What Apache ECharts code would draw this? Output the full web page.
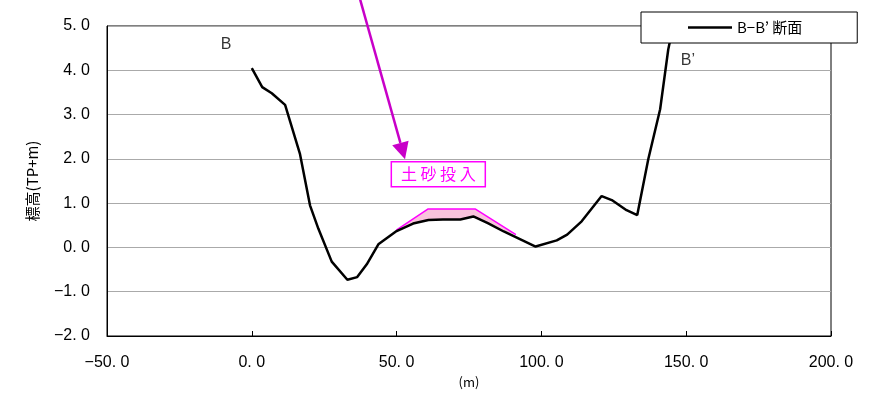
<!DOCTYPE html>
<html>
<head>
<meta charset="utf-8">
<script src="https://cdn.jsdelivr.net/npm/echarts@6/dist/echarts.min.js"></script>
<style>
  html, body { margin: 0; padding: 0; background: #fff; }
  #chart { width: 877px; height: 398px; }
</style>
</head>
<body>
<div id="chart"></div>
<script>
// 横断測線 B-B' の地盤高 [距離(m), 標高(TP+m)]
const profile = [
  [0, 4.05], [3.6, 3.62], [6.9, 3.48], [11.5, 3.22], [16.6, 2.12],
  [20.1, 0.95], [23.0, 0.42], [27.6, -0.32], [33.0, -0.73], [36.4, -0.67],
  [39.7, -0.38], [43.7, 0.07], [50.0, 0.37], [55.7, 0.54], [61.0, 0.62],
  [66.0, 0.63], [72.0, 0.63], [76.5, 0.70], [81.5, 0.55], [87.0, 0.36],
  [98.0, 0.02], [105.3, 0.16], [108.9, 0.29], [113.9, 0.59], [120.8, 1.16],
  [124.3, 1.07], [129.4, 0.84], [133.1, 0.73], [136.9, 1.99], [141.0, 3.12],
  [143.8, 4.47], [145.5, 5.0]
]
// 土砂投入後の計画線（マゼンタ）
const sandTop = [[49.9, 0.39], [60.9, 0.87], [77.1, 0.87], [91.2, 0.29]]
// 端点ラベル [x, y, 文字]
const endLabels = [[-8.9, 4.58, 'B'], [150.6, 4.22, 'B’']]
// 矢印（始点・終点）と注記
const arrowFrom = [37.4, 5.6]
const arrowTo = [52.9, 1.99]
const noteAt = [64.4, 1.65]
const noteText = '土 砂 投 入'

const xTicks = { min: -50, max: 200, interval: 50 }
const yTicks = { min: -2, max: 5, interval: 1 }

// 塗りつぶし範囲：計画線 + 現況線（逆順）
const x0 = sandTop[0][0], x1 = sandTop[sandTop.length - 1][0]
const sandPolygon = [...sandTop, ...profile.filter((p) => p[0] > x0 && p[0] < x1).reverse()]

const fmt = (v) => (v < 0 ? '−' : '') + Math.abs(v).toFixed(1).replace('.', '. ')
const font = '"Liberation Sans", Arial, sans-serif'
const jp = '"Noto Sans CJK JP", sans-serif'

const chart = echarts.init(document.getElementById('chart'))
chart.setOption({
  animation: false,
  backgroundColor: '#fff',
  grid: {
    left: 107, top: 26, width: 724, height: 310,
    show: true, borderColor: '#000', borderWidth: 1,
    outerBoundsMode: 'none'
  },
  legend: {
    left: 641, top: 12,
    padding: [8, 55, 8, 47],
    backgroundColor: '#fff', borderColor: '#000', borderWidth: 1, borderRadius: 0,
    icon: 'rect', itemWidth: 44, itemHeight: 2.5, itemGap: 4,
    itemStyle: { color: '#000' },
    textStyle: { fontFamily: jp, fontSize: 15, color: '#000', padding: [2, 0, 0, 0] },
    data: ['B−B’ 断面']
  },
  xAxis: {
    type: 'value', ...xTicks,
    name: '(m)', nameLocation: 'middle', nameGap: 40,
    nameTextStyle: { fontFamily: jp, fontSize: 13, color: '#000' },
    axisLine: { onZero: false, lineStyle: { color: '#000', width: 1 } },
    axisTick: { inside: true, length: 5, lineStyle: { color: '#000' } },
    axisLabel: { margin: 19, fontFamily: font, fontSize: 16, color: '#000', formatter: fmt },
    splitLine: { show: false }
  },
  yAxis: {
    type: 'value', ...yTicks,
    name: '標高(TP+m)', nameLocation: 'middle', nameGap: 67,
    nameTextStyle: { fontFamily: jp, fontSize: 15, color: '#000' },
    axisLine: { show: true, onZero: false, lineStyle: { color: '#000', width: 1 } },
    axisTick: { show: false },
    axisLabel: { margin: 17, fontFamily: font, fontSize: 16, color: '#000', formatter: fmt },
    splitLine: { lineStyle: { color: '#aaaaaa', width: 1 } }
  },
  series: [
    {
      name: 'sandFill', type: 'custom', data: [[0, 0]], silent: true, z: 1,
      renderItem: (params, api) => ({
        type: 'polygon',
        shape: { points: sandPolygon.map((p) => api.coord(p)) },
        style: { fill: '#f9c3dc', stroke: 'none' }
      })
    },
    {
      name: 'sandTop', type: 'line', data: sandTop, symbol: 'none', z: 2,
      lineStyle: { color: '#ff00ff', width: 1.5 }
    },
    {
      name: 'B−B’ 断面', type: 'line', data: profile, symbol: 'none', z: 3,
      lineStyle: { color: '#000', width: 2.5 }, itemStyle: { color: '#000' }
    },
    {
      name: 'labels', type: 'scatter', data: endLabels, symbolSize: 0, silent: true,
      label: {
        show: true, position: 'inside', formatter: (p) => p.value[2],
        fontFamily: font, fontSize: 16, color: '#000'
      }
    },
    {
      name: 'note', type: 'custom', data: [[0, 0]], silent: true, z: 5, clip: false,
      renderItem: (params, api) => {
        const a = api.coord(arrowFrom)
        const b = api.coord(arrowTo)
        const c = api.coord(noteAt)
        const dx = b[0] - a[0], dy = b[1] - a[1]
        const len = Math.hypot(dx, dy)
        const ux = dx / len, uy = dy / len
        const headL = 17, headW = 8.5
        const base = [b[0] - ux * headL, b[1] - uy * headL]
        const w = 94, h = 25
        return {
          type: 'group',
          children: [
            { type: 'line', shape: { x1: a[0], y1: a[1], x2: base[0], y2: base[1] },
              style: { stroke: '#c800c8', lineWidth: 2.5 } },
            { type: 'polygon',
              shape: { points: [b, [base[0] - uy * headW, base[1] + ux * headW], [base[0] + uy * headW, base[1] - ux * headW]] },
              style: { fill: '#c800c8' } },
            { type: 'rect', shape: { x: c[0] - w / 2, y: c[1] - h / 2, width: w, height: h },
              style: { fill: '#fff', stroke: '#ff00ff', lineWidth: 1.5 } },
            { type: 'text', x: c[0], y: c[1],
              style: { text: noteText, fill: '#ff00ff', font: '16px ' + jp, align: 'center', verticalAlign: 'middle' } }
          ]
        }
      }
    }
  ]
})
</script>
</body>
</html>
